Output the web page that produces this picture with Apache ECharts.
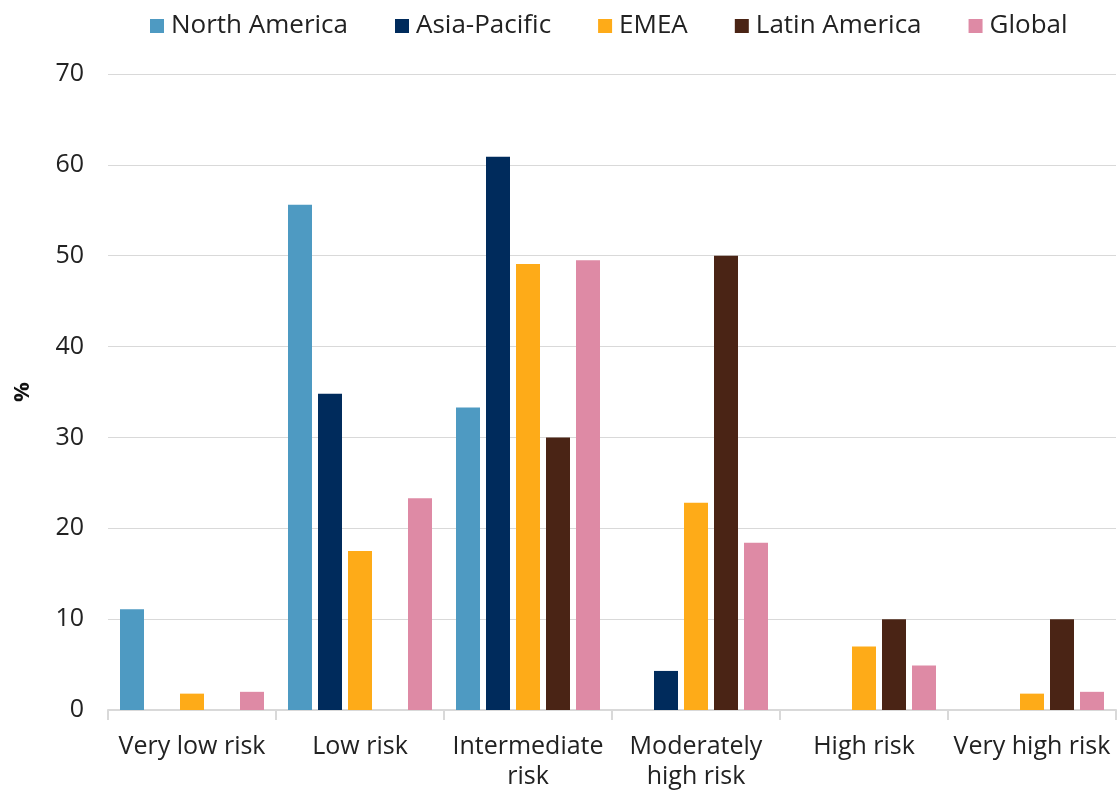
<!DOCTYPE html>
<html><head><meta charset="utf-8">
<script src="https://cdn.jsdelivr.net/npm/echarts@6/dist/echarts.min.js"></script>
<style>html,body{margin:0;padding:0;background:#fff}#c{width:1117px;height:792px}</style>
</head><body><div id="c"></div>
<script>
const categories = ["Very low risk", "Low risk", "Intermediate\nrisk", "Moderately\nhigh risk", "High risk", "Very high risk"];
const northAmerica = [11.1, 55.6, 33.3, 0, 0, 0];
const asiaPacific = [0, 34.8, 60.9, 4.3, 0, 0];
const emea = [1.8, 17.5, 49.1, 22.8, 7.0, 1.8];
const latinAmerica = [0, 0, 30.0, 50.0, 10.0, 10.0];
const global = [2.0, 23.3, 49.5, 18.4, 4.9, 2.0];
const seriesNames = ["North America", "Asia-Pacific", "EMEA", "Latin America", "Global"];
const colors = ["#4e9ac2", "#002b5c", "#feab18", "#4a2415", "#de8aa5"];
const yTicks = [0, 70, 10];

const font = "'Open Sans', 'Noto Sans', sans-serif";
const chart = echarts.init(document.getElementById('c'), null, {renderer: 'canvas'});
const data = [northAmerica, asiaPacific, emea, latinAmerica, global];
chart.setOption({
  animation: false,
  color: colors,
  legend: {
    top: 8, left: 145,
    itemWidth: 14, itemHeight: 14, itemGap: 47,
    icon: 'rect',
    textStyle: {fontFamily: font, fontSize: 26, color: '#222', padding: [0,0,0,2]},
    data: seriesNames
  },
  grid: {left: 108, right: 1, top: 74, bottom: 78, containLabel: false},
  xAxis: {
    type: 'category', data: categories,
    axisLine: {lineStyle: {color: '#d9d9d9', width: 2}},
    axisTick: {show: true, length: 10, lineStyle: {color: '#d9d9d9', width: 2}},
    axisLabel: {fontFamily: font, fontSize: 25, color: '#222', margin: 22, lineHeight: 30, interval: 0}
  },
  yAxis: {
    type: 'value', min: yTicks[0], max: yTicks[1], interval: yTicks[2],
    name: '%', nameLocation: 'middle', nameGap: 74, nameRotate: 90,
    nameTextStyle: {fontFamily: font, fontSize: 22, fontWeight: 'bold', color: '#111'},
    axisLine: {show: false}, axisTick: {show: false},
    splitLine: {lineStyle: {color: '#d9d9d9', width: 1}},
    axisLabel: {fontFamily: font, fontSize: 25, color: '#222', margin: 24}
  },
  series: seriesNames.map((n, i) => ({
    name: n, type: 'bar', data: data[i],
    barWidth: 24, barGap: '25%',
    itemStyle: {color: colors[i]}
  }))
});
</script></body></html>
